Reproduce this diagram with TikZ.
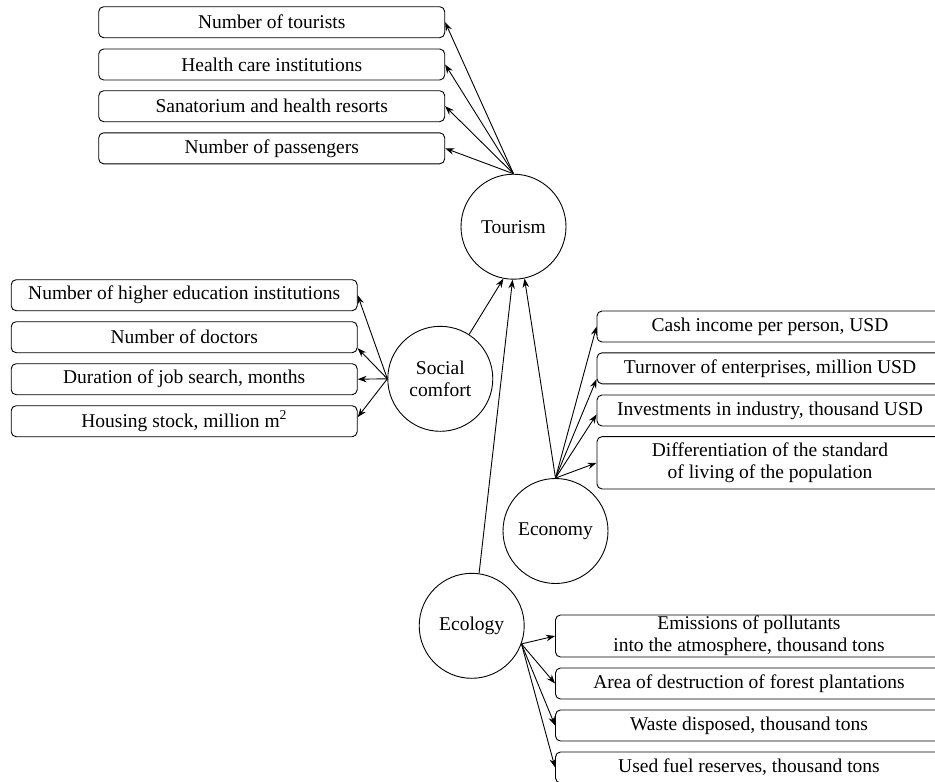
\documentclass[tikz,border=0pt]{standalone}
\usepackage{fontspec}
\setmainfont{Liberation Serif}
\usetikzlibrary{arrows.meta}

\begin{document}
\begin{tikzpicture}[x=1pt,y=-1pt,line width=0.9pt,
  font=\fontsize{19.5}{22}\selectfont,
  factor/.style={draw,circle,minimum size=105pt,inner sep=0pt,align=center},
  item/.style={draw,rounded corners=5pt,minimum width=346pt,minimum height=31pt,inner sep=0pt,align=center},
  >={Stealth[length=9pt,width=6.5pt]}]
  \useasboundingbox (0,0) rectangle (935,782);
  \clip (0,0) rectangle (935,782);
  % factors
  \node[factor] (tour) at (513.5,226.7) {Tourism};
  \node[factor] (soc) at (440.3,378.8) {Social\\comfort};
  \node[factor] (econ) at (555.5,531) {Economy};
  \node[factor] (ecol) at (471.7,625.8) {Ecology};
  % indicators
  \node[item] (t1) at (271.7,22.2) {Number of tourists};
  \node[item] (t2) at (271.7,64.5) {Health care institutions};
  \node[item] (t3) at (271.7,106.2) {Sanatorium and health resorts};
  \node[item] (t4) at (271.7,148.3) {Number of passengers};
  \node[item] (s1) at (184.2,295.2) {Number of higher education institutions};
  \node[item] (s2) at (184.2,337.2) {Number of doctors};
  \node[item] (s3) at (184.2,379.2) {Duration of job search, months};
  \node[item] (s4) at (184.2,421.2) {Housing stock, million m\textsuperscript{2}};
  \node[item] (e1) at (770,326.5) {Cash income per person, USD};
  \node[item] (e2) at (770,368.3) {Turnover of enterprises, million USD};
  \node[item] (e3) at (770,410.5) {Investments in industry, thousand USD};
  \node[item,minimum height=52.3pt] (e4) at (770,462.8) {Differentiation of the standard\\of living of the population};
  \node[item,minimum width=387pt,minimum height=42pt] (g1) at (749,636) {Emissions of pollutants\\into the atmosphere, thousand tons};
  \node[item,minimum width=387pt] (g2) at (749,683.5) {Area of destruction of forest plantations};
  \node[item,minimum width=387pt] (g3) at (749,725.5) {Waste disposed, thousand tons};
  \node[item,minimum width=387pt] (g4) at (749,767.5) {Used fuel reserves, thousand tons};
  \path[->]
    (tour.north) edge (t1.east) edge (t2.east) edge (t3.east) edge (t4.east)
    (soc.west) edge (s1.east) edge ([yshift=-11pt]s2.east) edge (s3.east) edge ([yshift=4pt]s4.east)
    (soc.57) edge (tour.259)
    (econ.north) edge (tour.282) edge (e1.west) edge ([yshift=-11pt]e2.west)
                 edge ([yshift=-4pt]e3.west) edge (e4.west)
    (ecol.82) edge (tour.269)
    (ecol.-20) edge (g1.west) edge (g2.west) edge (g3.west) edge (g4.west);
\end{tikzpicture}
\end{document}
